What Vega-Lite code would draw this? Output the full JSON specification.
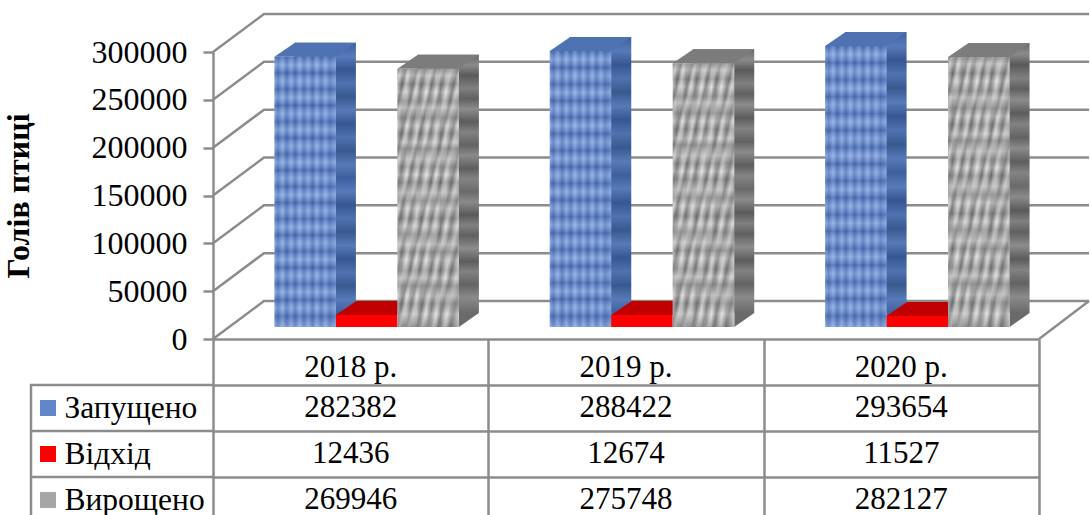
{
"$schema":"https://vega.github.io/schema/vega-lite/v6.json",
"background":"white",
"padding":{"left":2,"top":9,"right":0,"bottom":0},
"spacing":0,
"bounds":"flush",
"config":{"view":{"stroke":null},"font":"Liberation Serif"},
"datasets":{
"rows":[
{"year":"2018 р.","series":"Запущено","value":282382},{"year":"2018 р.","series":"Відхід","value":12436},{"year":"2018 р.","series":"Вирощено","value":269946},
{"year":"2019 р.","series":"Запущено","value":288422},{"year":"2019 р.","series":"Відхід","value":12674},{"year":"2019 р.","series":"Вирощено","value":275748},
{"year":"2020 р.","series":"Запущено","value":293654},{"year":"2020 р.","series":"Відхід","value":11527},{"year":"2020 р.","series":"Вирощено","value":282127}],
"ticks":[{"tick":0},{"tick":50000},{"tick":100000},{"tick":150000},{"tick":200000},{"tick":250000},{"tick":300000}],
"years":[{"year":"2018 р."},{"year":"2019 р."},{"year":"2020 р."}],
"legend":[{"series":"Запущено"},{"series":"Відхід"},{"series":"Вирощено"}]
},
"vconcat":[
{"width":826,"height":287,
"resolve":{"scale":{"x":"independent","xOffset":"independent"}},
"encoding":{
"y":{"field":"value","type":"quantitative","scale":{"domain":[0,300000]},
"axis":{"values":[0,50000,100000,150000,200000,250000,300000],"format":"d","grid":false,"domainColor":"#8c8c8c","domainWidth":2.5,"tickColor":"#8c8c8c","tickWidth":2.5,"tickSize":10,"labelPadding":16,"labelFont":"Liberation Serif","labelFontSize":32,"labelColor":"#000000","title":"Голів птиці","titleFont":"Liberation Serif","titleFontSize":32,"titleFontWeight":"bold","titleColor":"#000000","titleX":-178,"titleAngle":270}}},
"layer":[
{"data":{"name":"ticks"},"mark":{"type":"point","shape":"M-413,0L-362,-38L463,-38","size":4,"filled":false,"stroke":"#8c8c8c","strokeWidth":2.5,"opacity":1},"encoding":{"x":{"value":413},"y":{"field":"tick","type":"quantitative"}}},
{"data":{"values":[{"tick":0}]},"mark":{"type":"point","shape":"M413,0L463,-38","size":4,"filled":false,"stroke":"#8c8c8c","strokeWidth":2.5,"opacity":1},"encoding":{"x":{"value":413},"y":{"field":"tick","type":"quantitative"}}},
{"data":{"name":"rows"},"transform":[{"filter":"datum.series==='Запущено'"}],
"encoding":{"x":{"field":"year","type":"nominal","axis":null,"scale":{"domain":["2018 р.","2019 р.","2020 р."],"range":[36,862],"paddingInner":0.33,"paddingOuter":0.165}},"xOffset":{"field":"series","type":"nominal","scale":{"domain":["Запущено","Відхід","Вирощено"]}}},
"mark":{"type":"bar","yOffset":-26,"fill":{"gradient":"linear","x1":0,"y1":0,"x2":0,"y2":1,"stops":[{"offset":0,"color":"#3e5f9e"},{"offset":0.05,"color":"#577ab8"},{"offset":0.1,"color":"#355692"},{"offset":0.15,"color":"#4f72b0"},{"offset":0.2,"color":"#38598f"},{"offset":0.25,"color":"#577ab8"},{"offset":0.3,"color":"#355692"},{"offset":0.35,"color":"#4f72b0"},{"offset":0.4,"color":"#38598f"},{"offset":0.45,"color":"#577ab8"},{"offset":0.5,"color":"#3e5f9e"},{"offset":0.55,"color":"#577ab8"},{"offset":0.6,"color":"#355692"},{"offset":0.65,"color":"#4f72b0"},{"offset":0.7,"color":"#38598f"},{"offset":0.75,"color":"#577ab8"},{"offset":0.8,"color":"#355692"},{"offset":0.85,"color":"#4f72b0"},{"offset":0.9,"color":"#38598f"},{"offset":0.95,"color":"#577ab8"},{"offset":1,"color":"#3e5f9e"}]}}},
{"data":{"name":"rows"},"transform":[{"filter":"datum.series==='Запущено'"}],
"encoding":{"x":{"field":"year","type":"nominal","axis":null,"scale":{"domain":["2018 р.","2019 р.","2020 р."],"range":[16,842],"paddingInner":0.33,"paddingOuter":0.165}},"xOffset":{"field":"series","type":"nominal","scale":{"domain":["Запущено","Відхід","Вирощено"]}}},
"layer":[
{"mark":{"type":"point","shape":"M30.75,-12L30.75,-26L50.75,-26Z","size":4,"filled":true,"fill":"#3e5f9e","opacity":1},"encoding":{"y":{"datum":0}}},
{"mark":{"type":"point","shape":"M-30.75,-12L30.75,-12L50.75,-26L-10.25,-26Z","size":4,"filled":true,"fill":"#4f72b3","opacity":1}},
{"mark":{"type":"bar","yOffset":-12,"fill":{"gradient":"linear","x1":0,"y1":0,"x2":1,"y2":0,"stops":[{"offset":0,"color":"#7fa0dc"},{"offset":0.06,"color":"#5579bd"},{"offset":0.13,"color":"#8aaae2"},{"offset":0.2,"color":"#4f73b8"},{"offset":0.27,"color":"#86a6e0"},{"offset":0.34,"color":"#5176bb"},{"offset":0.41,"color":"#8cace4"},{"offset":0.48,"color":"#5579bd"},{"offset":0.55,"color":"#86a6e0"},{"offset":0.62,"color":"#4f73b8"},{"offset":0.69,"color":"#8aaae2"},{"offset":0.76,"color":"#5176bb"},{"offset":0.83,"color":"#86a6e0"},{"offset":0.9,"color":"#5579bd"},{"offset":1,"color":"#7fa0dc"}]}}},
{"mark":{"type":"bar","yOffset":-12,"fill":{"gradient":"linear","x1":0,"y1":0,"x2":0,"y2":1,"stops":[{"offset":0,"color":"rgba(30,60,130,0.3)"},{"offset":0.03,"color":"rgba(210,225,255,0.25)"},{"offset":0.06,"color":"rgba(30,60,130,0.35)"},{"offset":0.09,"color":"rgba(210,225,255,0.2)"},{"offset":0.12,"color":"rgba(30,60,130,0.3)"},{"offset":0.15,"color":"rgba(210,225,255,0.25)"},{"offset":0.18,"color":"rgba(30,60,130,0.35)"},{"offset":0.21,"color":"rgba(210,225,255,0.2)"},{"offset":0.24,"color":"rgba(30,60,130,0.3)"},{"offset":0.27,"color":"rgba(210,225,255,0.25)"},{"offset":0.3,"color":"rgba(30,60,130,0.35)"},{"offset":0.33,"color":"rgba(210,225,255,0.2)"},{"offset":0.36,"color":"rgba(30,60,130,0.3)"},{"offset":0.39,"color":"rgba(210,225,255,0.25)"},{"offset":0.42,"color":"rgba(30,60,130,0.35)"},{"offset":0.45,"color":"rgba(210,225,255,0.2)"},{"offset":0.48,"color":"rgba(30,60,130,0.3)"},{"offset":0.51,"color":"rgba(210,225,255,0.25)"},{"offset":0.54,"color":"rgba(30,60,130,0.35)"},{"offset":0.57,"color":"rgba(210,225,255,0.2)"},{"offset":0.6,"color":"rgba(30,60,130,0.3)"},{"offset":0.63,"color":"rgba(210,225,255,0.25)"},{"offset":0.66,"color":"rgba(30,60,130,0.35)"},{"offset":0.69,"color":"rgba(210,225,255,0.2)"},{"offset":0.72,"color":"rgba(30,60,130,0.3)"},{"offset":0.75,"color":"rgba(210,225,255,0.25)"},{"offset":0.78,"color":"rgba(30,60,130,0.35)"},{"offset":0.81,"color":"rgba(210,225,255,0.2)"},{"offset":0.84,"color":"rgba(30,60,130,0.3)"},{"offset":0.87,"color":"rgba(210,225,255,0.25)"},{"offset":0.9,"color":"rgba(30,60,130,0.35)"},{"offset":0.93,"color":"rgba(210,225,255,0.2)"},{"offset":0.96,"color":"rgba(30,60,130,0.3)"},{"offset":1,"color":"rgba(210,225,255,0.25)"}]}}}
]},
{"data":{"name":"rows"},"transform":[{"filter":"datum.series==='Відхід'"}],
"encoding":{"x":{"field":"year","type":"nominal","axis":null,"scale":{"domain":["2018 р.","2019 р.","2020 р."],"range":[16,842],"paddingInner":0.33,"paddingOuter":0.165}},"xOffset":{"field":"series","type":"nominal","scale":{"domain":["Запущено","Відхід","Вирощено"]}}},
"layer":[
{"mark":{"type":"point","shape":"M-30.75,-12L30.75,-12L50.75,-26L-10.25,-26Z","size":4,"filled":true,"fill":"#c00000","opacity":1}},
{"mark":{"type":"bar","yOffset":-12,"fill":"#ff0000"}}
]},
{"data":{"name":"rows"},"transform":[{"filter":"datum.series==='Вирощено'"}],
"encoding":{"x":{"field":"year","type":"nominal","axis":null,"scale":{"domain":["2018 р.","2019 р.","2020 р."],"range":[36,862],"paddingInner":0.33,"paddingOuter":0.165}},"xOffset":{"field":"series","type":"nominal","scale":{"domain":["Запущено","Відхід","Вирощено"]}}},
"mark":{"type":"bar","yOffset":-26,"fill":{"gradient":"linear","x1":0,"y1":0,"x2":0,"y2":1,"stops":[{"offset":0,"color":"#6a6a6a"},{"offset":0.04,"color":"#8a8a8a"},{"offset":0.08,"color":"#5a5a5a"},{"offset":0.13,"color":"#808080"},{"offset":0.17,"color":"#606060"},{"offset":0.21,"color":"#8c8c8c"},{"offset":0.26,"color":"#5c5c5c"},{"offset":0.3,"color":"#828282"},{"offset":0.35,"color":"#636363"},{"offset":0.39,"color":"#8a8a8a"},{"offset":0.44,"color":"#5e5e5e"},{"offset":0.48,"color":"#848484"},{"offset":0.53,"color":"#6a6a6a"},{"offset":0.57,"color":"#8a8a8a"},{"offset":0.62,"color":"#5a5a5a"},{"offset":0.66,"color":"#808080"},{"offset":0.7,"color":"#606060"},{"offset":0.75,"color":"#8c8c8c"},{"offset":0.8,"color":"#5c5c5c"},{"offset":0.84,"color":"#828282"},{"offset":0.89,"color":"#636363"},{"offset":0.94,"color":"#8a8a8a"},{"offset":1,"color":"#6a6a6a"}]}}},
{"data":{"name":"rows"},"transform":[{"filter":"datum.series==='Вирощено'"}],
"encoding":{"x":{"field":"year","type":"nominal","axis":null,"scale":{"domain":["2018 р.","2019 р.","2020 р."],"range":[16,842],"paddingInner":0.33,"paddingOuter":0.165}},"xOffset":{"field":"series","type":"nominal","scale":{"domain":["Запущено","Відхід","Вирощено"]}}},
"layer":[
{"mark":{"type":"point","shape":"M30.75,-12L30.75,-26L50.75,-26Z","size":4,"filled":true,"fill":"#6a6a6a","opacity":1},"encoding":{"y":{"datum":0}}},
{"mark":{"type":"point","shape":"M-30.75,-12L30.75,-12L50.75,-26L-10.25,-26Z","size":4,"filled":true,"fill":"#7c7c7c","opacity":1}},
{"mark":{"type":"bar","yOffset":-12,"fill":{"gradient":"linear","x1":0,"y1":0,"x2":1,"y2":0,"stops":[{"offset":0,"color":"#c4c4c4"},{"offset":0.07,"color":"#9c9c9c"},{"offset":0.15,"color":"#d6d6d6"},{"offset":0.22,"color":"#a0a0a0"},{"offset":0.31,"color":"#d2d2d2"},{"offset":0.38,"color":"#9a9a9a"},{"offset":0.47,"color":"#d8d8d8"},{"offset":0.55,"color":"#a4a4a4"},{"offset":0.63,"color":"#d4d4d4"},{"offset":0.7,"color":"#989898"},{"offset":0.79,"color":"#d6d6d6"},{"offset":0.87,"color":"#a2a2a2"},{"offset":1,"color":"#cecece"}]}}},
{"mark":{"type":"bar","yOffset":-12,"fill":{"gradient":"linear","x1":0,"y1":0,"x2":0,"y2":1,"stops":[{"offset":0,"color":"rgba(60,60,60,0.25)"},{"offset":0.025,"color":"rgba(240,240,240,0.3)"},{"offset":0.06,"color":"rgba(60,60,60,0.3)"},{"offset":0.09,"color":"rgba(240,240,240,0.25)"},{"offset":0.125,"color":"rgba(60,60,60,0.25)"},{"offset":0.15,"color":"rgba(240,240,240,0.3)"},{"offset":0.19,"color":"rgba(60,60,60,0.3)"},{"offset":0.22,"color":"rgba(240,240,240,0.25)"},{"offset":0.25,"color":"rgba(60,60,60,0.25)"},{"offset":0.285,"color":"rgba(240,240,240,0.3)"},{"offset":0.31,"color":"rgba(60,60,60,0.3)"},{"offset":0.35,"color":"rgba(240,240,240,0.25)"},{"offset":0.38,"color":"rgba(60,60,60,0.25)"},{"offset":0.41,"color":"rgba(240,240,240,0.3)"},{"offset":0.44,"color":"rgba(60,60,60,0.3)"},{"offset":0.48,"color":"rgba(240,240,240,0.25)"},{"offset":0.51,"color":"rgba(60,60,60,0.25)"},{"offset":0.54,"color":"rgba(240,240,240,0.3)"},{"offset":0.58,"color":"rgba(60,60,60,0.3)"},{"offset":0.61,"color":"rgba(240,240,240,0.25)"},{"offset":0.64,"color":"rgba(60,60,60,0.25)"},{"offset":0.68,"color":"rgba(240,240,240,0.3)"},{"offset":0.71,"color":"rgba(60,60,60,0.3)"},{"offset":0.74,"color":"rgba(240,240,240,0.25)"},{"offset":0.78,"color":"rgba(60,60,60,0.25)"},{"offset":0.81,"color":"rgba(240,240,240,0.3)"},{"offset":0.84,"color":"rgba(60,60,60,0.3)"},{"offset":0.88,"color":"rgba(240,240,240,0.25)"},{"offset":0.91,"color":"rgba(60,60,60,0.25)"},{"offset":0.95,"color":"rgba(240,240,240,0.3)"},{"offset":1,"color":"rgba(60,60,60,0.3)"}]}}},
{"mark":{"type":"bar","yOffset":-12,"fill":{"gradient":"linear","x1":0,"y1":0,"x2":1,"y2":1,"stops":[{"offset":0,"color":"rgba(40,40,40,0.25)"},{"offset":0.03,"color":"rgba(255,255,255,0.25)"},{"offset":0.07,"color":"rgba(40,40,40,0.3)"},{"offset":0.1,"color":"rgba(255,255,255,0.2)"},{"offset":0.16,"color":"rgba(40,40,40,0.3)"},{"offset":0.19,"color":"rgba(255,255,255,0.25)"},{"offset":0.23,"color":"rgba(40,40,40,0.25)"},{"offset":0.28,"color":"rgba(255,255,255,0.25)"},{"offset":0.31,"color":"rgba(40,40,40,0.3)"},{"offset":0.36,"color":"rgba(255,255,255,0.2)"},{"offset":0.39,"color":"rgba(40,40,40,0.25)"},{"offset":0.44,"color":"rgba(255,255,255,0.25)"},{"offset":0.49,"color":"rgba(40,40,40,0.3)"},{"offset":0.52,"color":"rgba(255,255,255,0.25)"},{"offset":0.57,"color":"rgba(40,40,40,0.25)"},{"offset":0.6,"color":"rgba(255,255,255,0.2)"},{"offset":0.66,"color":"rgba(40,40,40,0.3)"},{"offset":0.7,"color":"rgba(255,255,255,0.25)"},{"offset":0.74,"color":"rgba(40,40,40,0.25)"},{"offset":0.79,"color":"rgba(255,255,255,0.25)"},{"offset":0.83,"color":"rgba(40,40,40,0.3)"},{"offset":0.88,"color":"rgba(255,255,255,0.2)"},{"offset":0.93,"color":"rgba(40,40,40,0.25)"},{"offset":1,"color":"rgba(255,255,255,0.25)"}]}}}
]}
]},
{"width":826,"height":184,
"encoding":{
"x":{"field":"year","type":"nominal","scale":{"domain":["2018 р.","2019 р.","2020 р."],"paddingInner":0,"paddingOuter":0},
"axis":{"orient":"bottom","title":null,"labels":false,"ticks":false,"domain":false,"grid":true,"tickBand":"extent","gridColor":"#8c8c8c","gridWidth":2.5,"gridOpacity":1}},
"y":{"field":"series","type":"nominal","scale":{"domain":["header","Запущено","Відхід","Вирощено"],"paddingInner":0,"paddingOuter":0},
"axis":{"title":null,"ticks":false,"domain":false,"grid":true,"tickBand":"extent","gridColor":"#8c8c8c","gridWidth":2.5,"gridOpacity":1,"labelExpr":"datum.value==='header'?'':datum.value","labelAlign":"left","labelPadding":149,"labelFont":"Liberation Serif","labelFontSize":31.5,"labelColor":"#000000"}}},
"layer":[
{"data":{"name":"rows"},"mark":{"type":"text","font":"Liberation Serif","fontSize":31,"color":"#000000"},"encoding":{"text":{"field":"value","type":"quantitative","format":"d"}}},
{"data":{"name":"years"},"transform":[{"calculate":"'header'","as":"series"}],"mark":{"type":"text","font":"Liberation Serif","fontSize":31,"color":"#000000","dy":6},"encoding":{"text":{"field":"year","type":"nominal"}}},
{"data":{"values":[{"series":"Запущено"}]},"mark":{"type":"point","shape":"M-413,-23L-595,-23L-595,115M-595,23L-413,23M-595,69L-413,69","size":4,"filled":false,"stroke":"#8c8c8c","strokeWidth":2.5,"opacity":1},"encoding":{"x":{"value":413}}},
{"data":{"name":"legend"},"mark":{"type":"point","shape":"M-586,-8h16v16h-16z","size":4,"filled":true,"opacity":1},"encoding":{"x":{"value":413},"color":{"field":"series","type":"nominal","legend":null,"scale":{"domain":["Запущено","Відхід","Вирощено"],"range":["#5f86c8","#ff0000","#a6a6a6"]}}}}
]}
]}
